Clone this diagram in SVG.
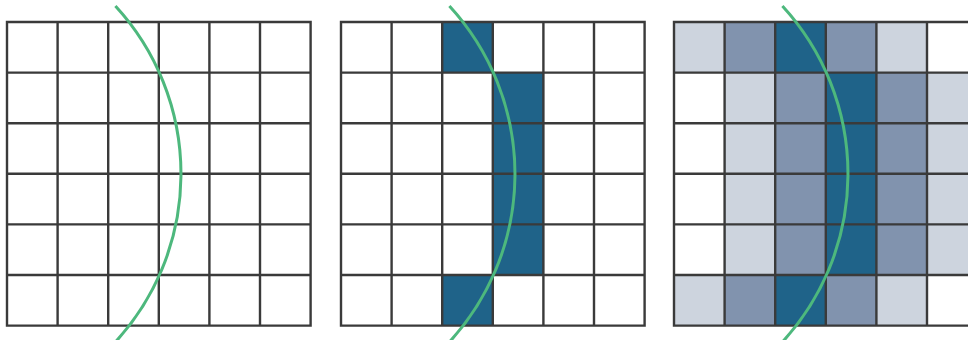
<svg xmlns="http://www.w3.org/2000/svg" width="968" height="340" viewBox="0 0 968 340">
<style>
.d{fill:#1f6389}
.m{fill:#8193ae}
.l{fill:#cdd4de}
.g{fill:none;stroke:#3a3a3a;stroke-width:2.4;stroke-linecap:square}
.arc{fill:none;stroke:#4db87d;stroke-width:3}
</style>
<defs>
<path id="grid" class="g" d="M0,0H303.6V303.6H0Z M50.6,0V303.6 M101.2,0V303.6 M151.8,0V303.6 M202.4,0V303.6 M253,0V303.6 M0,50.6H303.6 M0,101.2H303.6 M0,151.8H303.6 M0,202.4H303.6 M0,253H303.6"/>
</defs>
<rect width="968" height="340" fill="#ffffff"/>
<g id="grid1" transform="translate(7,22)">
<rect width="303.6" height="303.6" fill="#ffffff"/>
<use href="#grid"/>
</g>
<g id="grid2" transform="translate(341,22)">
<rect width="303.6" height="303.6" fill="#ffffff"/>
<rect class="d" x="101.2" y="0" width="50.6" height="50.6"/>
<rect class="d" x="151.8" y="50.6" width="50.6" height="202.4"/>
<rect class="d" x="101.2" y="253" width="50.6" height="50.6"/>
<use href="#grid"/>
</g>
<g id="grid3" transform="translate(674,22)">
<rect width="303.6" height="303.6" fill="#ffffff"/>
<rect class="l" x="0" y="0" width="50.6" height="50.6"/>
<rect class="m" x="50.6" y="0" width="50.6" height="50.6"/>
<rect class="d" x="101.2" y="0" width="50.6" height="50.6"/>
<rect class="m" x="151.8" y="0" width="50.6" height="50.6"/>
<rect class="l" x="202.4" y="0" width="50.6" height="50.6"/>
<rect class="l" x="50.6" y="50.6" width="50.6" height="202.4"/>
<rect class="m" x="101.2" y="50.6" width="50.6" height="202.4"/>
<rect class="d" x="151.8" y="50.6" width="50.6" height="202.4"/>
<rect class="m" x="202.4" y="50.6" width="50.6" height="202.4"/>
<rect class="l" x="253" y="50.6" width="50.6" height="202.4"/>
<rect class="l" x="0" y="253" width="50.6" height="50.6"/>
<rect class="m" x="50.6" y="253" width="50.6" height="50.6"/>
<rect class="d" x="101.2" y="253" width="50.6" height="50.6"/>
<rect class="m" x="151.8" y="253" width="50.6" height="50.6"/>
<rect class="l" x="202.4" y="253" width="50.6" height="50.6"/>
<use href="#grid"/>
</g>
<g id="arcs">
<path class="arc" d="M115.4,6 A248,248 0 0 1 112.6,345"/>
<path class="arc" d="M449.4,6 A248,248 0 0 1 446.6,345"/>
<path class="arc" d="M782.4,6 A248,248 0 0 1 779.6,345"/>
</g>
</svg>
